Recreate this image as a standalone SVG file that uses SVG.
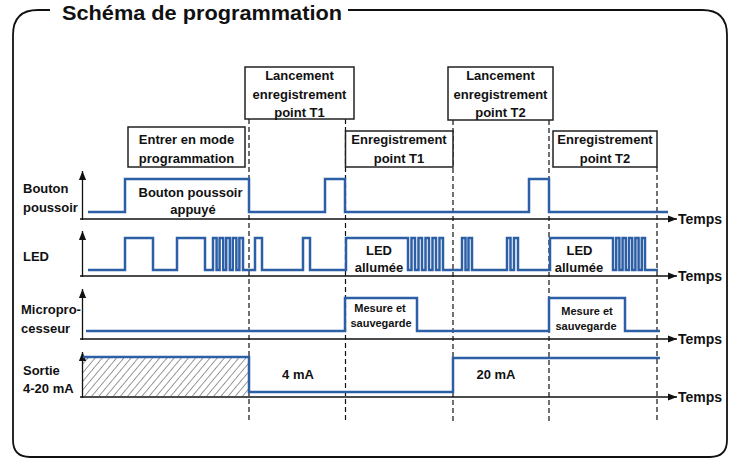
<svg xmlns="http://www.w3.org/2000/svg" width="737" height="459" viewBox="0 0 737 459">
<defs>
<style>
.t{font-family:"Liberation Sans",Arial,sans-serif;font-weight:bold;fill:#111;}
.f13{font-size:13px;}
.f11{font-size:11px;}
.f14{font-size:14px;}
.c{text-anchor:middle;}
.box{fill:#fff;stroke:#222;stroke-width:1.5;}
.sig{fill:none;stroke:#2d5fa6;stroke-width:2.5;stroke-linejoin:miter;}
.ax{fill:none;stroke:#111;stroke-width:1.3;marker-end:url(#ah);}
.dash{fill:none;stroke:#111;stroke-width:1.2;stroke-dasharray:5 3;}
</style>
<marker id="ah" viewBox="0 0 10 8" refX="10" refY="4" markerWidth="9" markerHeight="8" markerUnits="userSpaceOnUse" orient="auto">
<path d="M0,0 L10,4 L0,8 z" fill="#111"/>
</marker>
<pattern id="hatch" width="5.5" height="5.5" patternUnits="userSpaceOnUse" patternTransform="rotate(40)">
<line x1="0" y1="0" x2="0" y2="5.5" stroke="#333" stroke-width="1"/>
</pattern>
</defs>
<rect width="737" height="459" fill="#fff"/>
<g id="frame">
<path d="M50,10 L38,10 Q13,10 13,35 L13,440 Q13,457 30,457 L710,457 Q727,457 727,440 L727,35 Q727,10 702,10 L348,10" fill="none" stroke="#111" stroke-width="1.8"/>
<text class="t" x="62" y="19.5" font-size="20.5" textLength="280" lengthAdjust="spacingAndGlyphs">Schéma de programmation</text>
</g>
<g id="connectors">
<line class="dash" x1="249" y1="119" x2="249" y2="423"/>
<line class="dash" x1="345.5" y1="119" x2="345.5" y2="423"/>
<line class="dash" x1="453" y1="120" x2="453" y2="423"/>
<line class="dash" x1="549" y1="120" x2="549" y2="423"/>
<line class="dash" x1="657" y1="167" x2="657" y2="423"/>
</g>
<g id="box-entrer">
<rect class="box" x="128" y="127" width="117" height="40"/>
<text class="t f13 c" x="186.5" y="144">Entrer en mode</text>
<text class="t f13 c" x="186.5" y="163">programmation</text>
</g>
<g id="box-lancement-t1">
<rect class="box" x="245" y="67" width="109" height="52"/>
<text class="t f13 c" x="299.5" y="80">Lancement</text>
<text class="t f13 c" x="299.5" y="99">enregistrement</text>
<text class="t f13 c" x="299.5" y="117">point T1</text>
</g>
<g id="box-enreg-t1">
<rect class="box" x="345.5" y="131" width="107.5" height="36"/>
<text class="t f13 c" x="399" y="144">Enregistrement</text>
<text class="t f13 c" x="399" y="163">point T1</text>
</g>
<g id="box-lancement-t2">
<rect class="box" x="448" y="67" width="105" height="53"/>
<text class="t f13 c" x="500.5" y="80">Lancement</text>
<text class="t f13 c" x="500.5" y="99">enregistrement</text>
<text class="t f13 c" x="500.5" y="117">point T2</text>
</g>
<g id="box-enreg-t2">
<rect class="box" x="553" y="131" width="104" height="36"/>
<text class="t f13 c" x="605" y="144">Enregistrement</text>
<text class="t f13 c" x="605" y="163">point T2</text>
</g>
<g id="row-bouton">
<text class="t f13" x="23" y="193">Bouton</text>
<text class="t f13" x="23" y="212">poussoir</text>
<line class="ax" x1="82.5" y1="220" x2="82.5" y2="171"/>
<line class="ax" x1="80" y1="219" x2="677" y2="219"/>
<text class="t f14" x="678" y="224">Temps</text>
<path class="sig" d="M88,212 H125 V179 H249 V212 H325 V179 H345 V212 H529 V179 H549 V212 H668"/>
<text class="t f13 c" x="190.5" y="197">Bouton poussoir</text>
<text class="t f13 c" x="193" y="214">appuyé</text>
</g>
<g id="row-led">
<text class="t f13" x="23" y="261">LED</text>
<line class="ax" x1="82.5" y1="277" x2="82.5" y2="231"/>
<line class="ax" x1="80" y1="276" x2="677" y2="276"/>
<text class="t f14" x="678" y="281">Temps</text>
<path class="sig" d="M88,270 H125 V238 H153 V270 H177 V238 H205 V270 H213 V238 H216.6 V270 H219.6 V238 H223.2 V270 H226.2 V238 H229.8 V270 H232.8 V238 H236.4 V270 H239.4 V238 H243 V270 H255 V238 H262 V270 H303 V238 H310 V270 H346 V238 H408 V270 H411.5 V238 H415 V270 H418.5 V238 H422 V270 H425.5 V238 H429 V270 H432.5 V238 H436 V270 H439.5 V238 H443 V270 H462 V238 H465.5 V270 H468.5 V238 H472 V270 H507 V238 H510.5 V270 H514 V238 H518 V270 H550 V238 H613 V270 H616.2 V238 H619.4 V270 H622.6 V238 H625.8 V270 H629 V238 H632.2 V270 H635.4 V238 H638.6 V270 H641.8 V238 H645 V270 H658"/>
<text class="t f13 c" x="379" y="255">LED</text>
<text class="t f13 c" x="379" y="272">allumée</text>
<text class="t f13 c" x="579.5" y="255">LED</text>
<text class="t f13 c" x="579" y="272">allumée</text>
</g>
<g id="row-micro">
<text class="t f13" x="21" y="314">Micropro-</text>
<text class="t f13" x="21" y="333">cesseur</text>
<line class="ax" x1="82.5" y1="340" x2="82.5" y2="289"/>
<line class="ax" x1="80" y1="339" x2="677" y2="339"/>
<text class="t f14" x="678" y="344">Temps</text>
<path class="sig" d="M86,331 H345 V298 H417 V331 H549 V298 H625 V331 H660"/>
<text class="t f11 c" x="380" y="312">Mesure et</text>
<text class="t f11 c" x="381" y="327">sauvegarde</text>
<text class="t f11 c" x="587" y="315">Mesure et</text>
<text class="t f11 c" x="586" y="330">sauvegarde</text>
</g>
<g id="row-sortie">
<text class="t f13" x="23" y="375">Sortie</text>
<text class="t f13" x="23" y="393">4-20 mA</text>
<rect x="83" y="357" width="166" height="39" fill="url(#hatch)"/>
<line class="ax" x1="82.5" y1="398" x2="82.5" y2="352"/>
<line class="ax" x1="80" y1="397" x2="677" y2="397"/>
<text class="t f14" x="678" y="402">Temps</text>
<path class="sig" d="M83,357 H249 V392 H453 V358 H660"/>
<text class="t f13 c" x="298" y="379">4 mA</text>
<text class="t f13 c" x="496" y="379">20 mA</text>
</g>
</svg>
